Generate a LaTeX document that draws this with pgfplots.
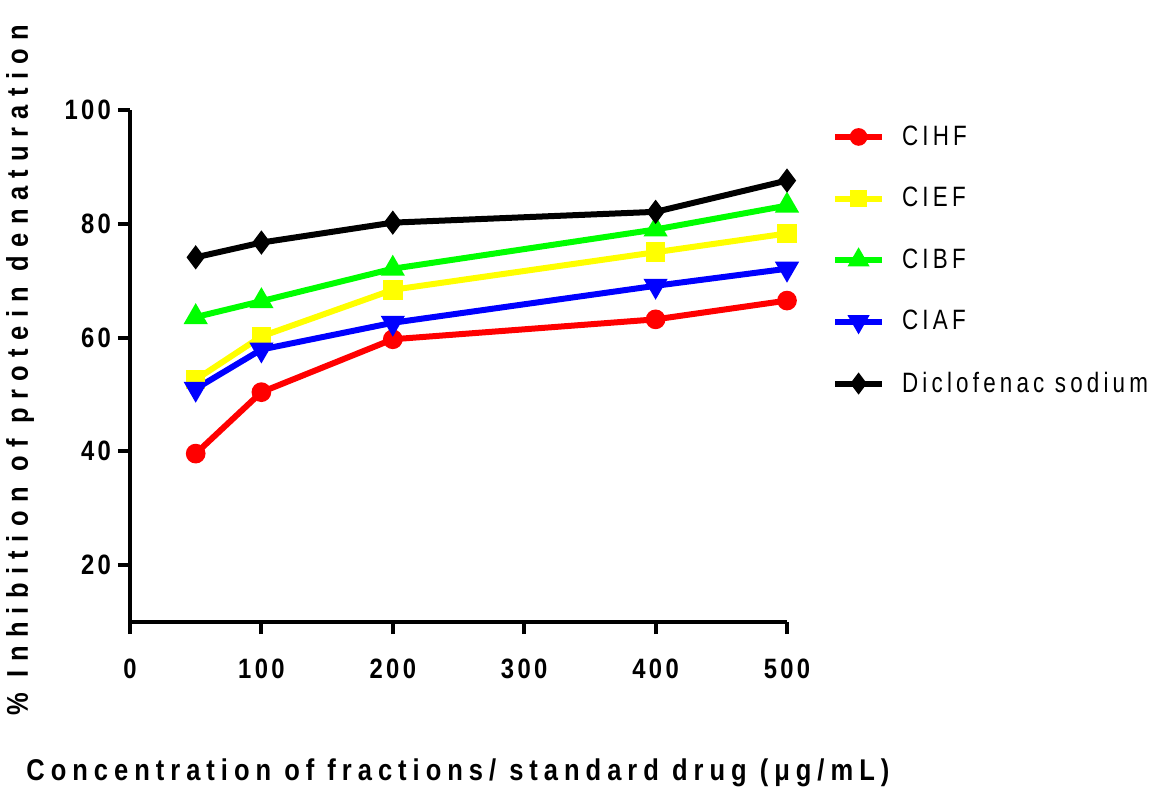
\documentclass[border=0pt]{standalone}
\usepackage{fontspec}
\setmainfont{Liberation Sans}
\newfontfamily\tickfont[FakeStretch=0.85, LetterSpace=12]{Liberation Sans Bold}
\newfontfamily\xlabfont[FakeStretch=0.85, LetterSpace=20]{Liberation Sans Bold}
\newfontfamily\ylabfont[FakeStretch=0.85, LetterSpace=28]{Liberation Sans Bold}
\newfontfamily\legfont[FakeStretch=0.8, LetterSpace=15]{Liberation Sans}
\usepackage{pgfplots}
\pgfplotsset{compat=1.18}
\definecolor{cred}{RGB}{255,0,0}
\definecolor{cyel}{RGB}{255,255,0}
\definecolor{cgrn}{RGB}{0,255,0}
\definecolor{cblu}{RGB}{0,0,255}
\begin{document}
\begin{tikzpicture}
\useasboundingbox (-65pt,-82.5pt) rectangle (512.5pt,311pt);
\begin{axis}[
  at={(0,0)}, anchor=south west,
  scale only axis, width=328.5pt, height=256pt,
  xmin=0, xmax=500, ymin=10, ymax=100,
  axis lines=left, axis line style={line width=2pt, -},
  xtick={0,100,200,300,400,500},
  ytick={20,40,60,80,100},
  tick align=outside, major tick length=6pt,
  tick style={line width=2pt, black},
  /pgf/number format/assume math mode=true,
  ticklabel style={font=\tickfont\fontsize{14}{16}\selectfont},
  xticklabel style={yshift=-9pt},
  yticklabel style={xshift=0pt},
  clip=false,
  xlabel={Concentration of fractions/ standard drug (μg/mL)},
  ylabel={\% Inhibition of protein denaturation},
  every axis x label/.style={at={(axis description cs:0.499,-0.295)}, anchor=center, font=\xlabfont\fontsize{15}{17}\selectfont},
  every axis y label/.style={at={(axis description cs:-0.1674,0.492)}, rotate=90, anchor=center, font=\ylabfont\fontsize{15}{17}\selectfont},
  legend style={at={(axis description cs:1.068,0.978)}, anchor=north west, draw=none, fill=none,
    font=\legfont\fontsize{14}{16}\selectfont, row sep=15.5pt, inner xsep=0pt, inner ysep=0pt,
    nodes={inner xsep=8.5pt}},
  legend cell align=left,
  legend image code/.code={\draw[#1, mark repeat=2, mark phase=2, every mark/.append style={scale=0.85}] plot coordinates {(-8pt,0pt) (3.75pt,0pt) (15.5pt,0pt)};},
  every axis plot/.append style={line width=3pt},
]
\addplot[color=cred, mark=*, mark size=3.4pt, mark options={solid}] coordinates {(50,39.6) (100,50.4) (200,59.7) (400,63.2) (500,66.5)};
\addlegendentry{CIHF}
\addplot[color=cyel, mark=square*, mark size=3.4pt] coordinates {(50,52.6) (100,60.2) (200,68.4) (400,75.0) (500,78.3)};
\addlegendentry{CIEF}
\addplot[color=cgrn, mark=triangle*, mark size=4pt] coordinates {(50,63.6) (100,66.4) (200,72.1) (400,79.0) (500,83.2)};
\addlegendentry{CIBF}
\addplot[color=cblu, mark=triangle*, mark size=4pt, mark options={rotate=180}] coordinates {(50,51.0) (100,57.9) (200,62.6) (400,69.1) (500,72.1)};
\addlegendentry{CIAF}
\addplot[color=black, mark=diamond*, mark size=3.6pt] coordinates {(50,74.1) (100,76.7) (200,80.2) (400,82.1) (500,87.6)};
\addlegendentry{Diclofenac sodium}
\end{axis}
\end{tikzpicture}
\end{document}
